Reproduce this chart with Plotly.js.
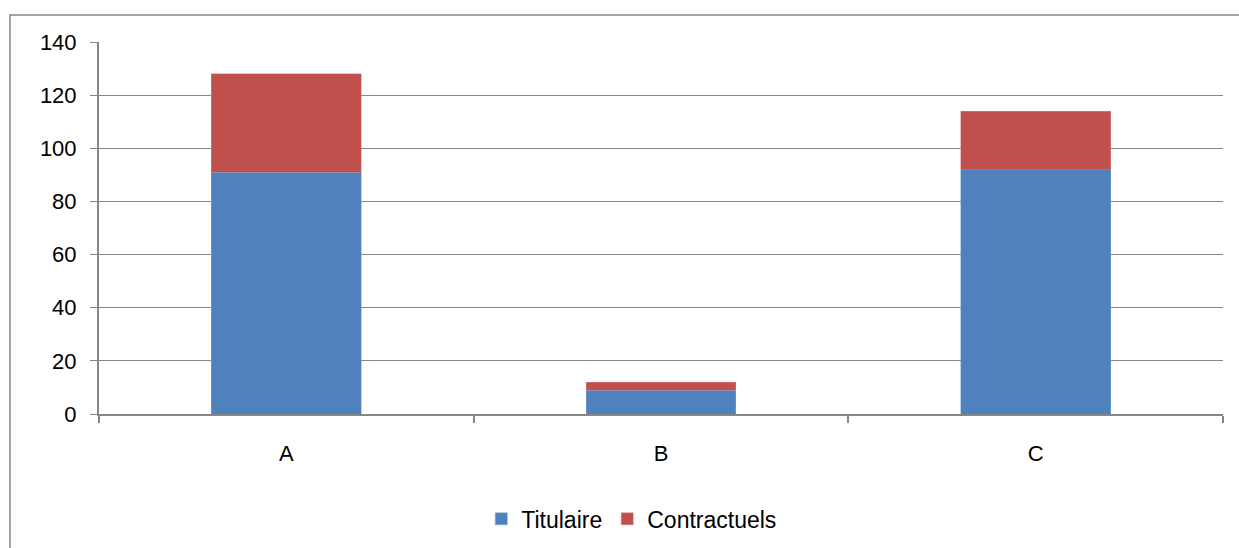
<!DOCTYPE html>
<html>
<head>
<meta charset="utf-8">
<script src="https://cdn.plot.ly/plotly-3.0.1.min.js"></script>
<style>html,body{margin:0;padding:0;background:#fff;}#chart{width:1239px;height:548px;}</style>
</head>
<body>
<div id="chart"></div>
<script>
const categories = ['A', 'B', 'C'];
const titulaire = [91, 9, 92];
const contractuels = [37, 3, 22];
const yTicks = [0, 20, 40, 60, 80, 100, 120, 140];

const font = {family: 'Liberation Sans, Arial, sans-serif', size: 22, color: '#000'};
const legendFont = {family: 'Liberation Sans, Arial, sans-serif', size: 23, color: '#000'};
const gray = '#868686';

const traces = [
  {type: 'bar', name: 'Titulaire', x: categories, y: titulaire,
   marker: {color: '#4F81BD', line: {color: '#7FA3D0', width: 0.5}}},
  {type: 'bar', name: 'Contractuels', x: categories, y: contractuels,
   marker: {color: '#C0504D', line: {color: '#D38583', width: 0.5}}}
];

const layout = {
  width: 1239, height: 548,
  barmode: 'stack', bargap: 0.6,
  margin: {l: 99, r: 16, t: 42, b: 134, autoexpand: false},
  paper_bgcolor: '#fff', plot_bgcolor: '#fff',
  font: font,
  showlegend: true,
  legend: {orientation: 'h', x: 0.474, xanchor: 'center', y: -0.282, yanchor: 'middle',
           font: legendFont, traceorder: 'normal'},
  xaxis: {type: 'category', showline: true, linecolor: gray, linewidth: 2, automargin: false,
          ticks: 'outside', tickson: 'boundaries', ticklen: 7, tickcolor: gray, tickwidth: 2,
          showgrid: false, zeroline: false, ticklabelstandoff: 19, tickfont: font},
  yaxis: {range: [0, 140], tickvals: yTicks, showline: true, linecolor: gray, linewidth: 2, automargin: false,
          ticks: 'outside', ticklen: 7, tickcolor: gray, tickwidth: 1,
          showgrid: true, gridcolor: gray, gridwidth: 1, zeroline: false,
          ticklabelstandoff: 9, tickfont: font},
  shapes: [{type: 'rect', xref: 'paper', yref: 'paper', x0: -0.0792, x1: 1.03, y0: -0.5, y1: 1.0726,
            line: {color: gray, width: 1.5}, fillcolor: 'rgba(0,0,0,0)', layer: 'below'}]
};

Plotly.newPlot('chart', traces, layout, {displayModeBar: false, staticPlot: true});
</script>
</body>
</html>
